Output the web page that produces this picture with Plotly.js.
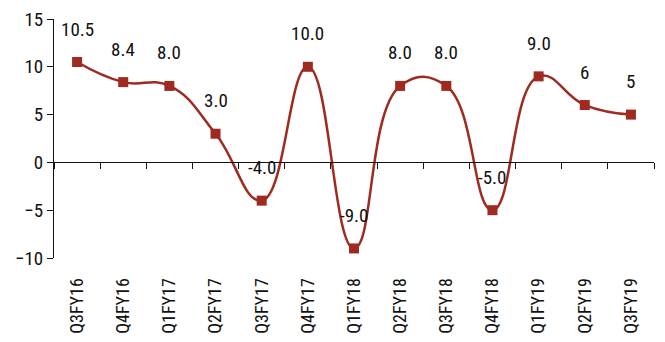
<!DOCTYPE html>
<html><head><meta charset="utf-8">
<script src="https://cdn.plot.ly/plotly-3.0.1.min.js"></script>
<style>body{margin:0;background:#fff}#c{width:665px;height:342px}</style>
</head><body><div id="c"></div>
<script>
const quarters = ["Q3FY16","Q4FY16","Q1FY17","Q2FY17","Q3FY17","Q4FY17","Q1FY18","Q2FY18","Q3FY18","Q4FY18","Q1FY19","Q2FY19","Q3FY19"];
const values = [10.5, 8.4, 8.0, 3.0, -4.0, 10.0, -9.0, 8.0, 8.0, -5.0, 9.0, 6, 5];
const labels = ["10.5","8.4","8.0","3.0","-4.0","10.0","-9.0","8.0","8.0","-5.0","9.0","6","5"];

const FONT = "'Liberation Sans Narrow','Roboto Condensed','Arial Narrow','DejaVu Sans Condensed',sans-serif";
const RED = "#9e2a20";
const n = quarters.length;
const yMin = -10, yMax = 15;
const boundaries = [];
for (let i = 0; i <= n; i++) boundaries.push(i - 0.5);

const trace = {
  x: quarters, y: values, type: "scatter", mode: "lines+markers",
  line: {color: RED, width: 2.5, shape: "spline", smoothing: 1.3},
  marker: {color: RED, symbol: "square", size: 10},
  hoverinfo: "skip", cliponaxis: false
};

const annotations = quarters.map((q, i) => ({
  x: q, y: values[i], xref: "x", yref: "y", text: labels[i], showarrow: false,
  yshift: 33, font: {family: FONT, size: 19, color: "#111"}
}));

const layout = {
  width: 665, height: 342,
  margin: {l: 54, r: 11, t: 19, b: 84},
  paper_bgcolor: "#fff", plot_bgcolor: "#fff",
  showlegend: false,
  font: {family: FONT, color: "#111"},
  xaxis: {
    type: "category", range: [-0.5, n - 0.5], showgrid: false, zeroline: false,
    showline: false, ticks: "outside", ticklen: 12, tickcolor: "rgba(0,0,0,0)",
    tickangle: -90, tickfont: {family: FONT, size: 18, color: "#111"}
  },
  xaxis2: {
    overlaying: "x", anchor: "free", position: (0 - yMin) / (yMax - yMin),
    range: [-0.5, n - 0.5], showgrid: false, zeroline: false,
    showline: true, linecolor: "#111", linewidth: 1,
    tickmode: "array", tickvals: boundaries, ticks: "outside", ticklen: 6,
    tickcolor: "#111", showticklabels: false
  },
  yaxis: {
    range: [yMin, yMax], tickvals: [-10, -5, 0, 5, 10, 15], showgrid: false,
    zeroline: false, showline: true, linecolor: "#111", linewidth: 1,
    ticks: "outside", ticklen: 6, tickcolor: "#111",
    tickfont: {family: FONT, size: 19, color: "#111"}
  },
  annotations: annotations
};

const dummy = {x: [0], y: [0], xaxis: "x2", yaxis: "y", mode: "markers", marker: {opacity: 0}, hoverinfo: "skip"};

Plotly.newPlot("c", [dummy, trace], layout, {staticPlot: true});
</script></body></html>
